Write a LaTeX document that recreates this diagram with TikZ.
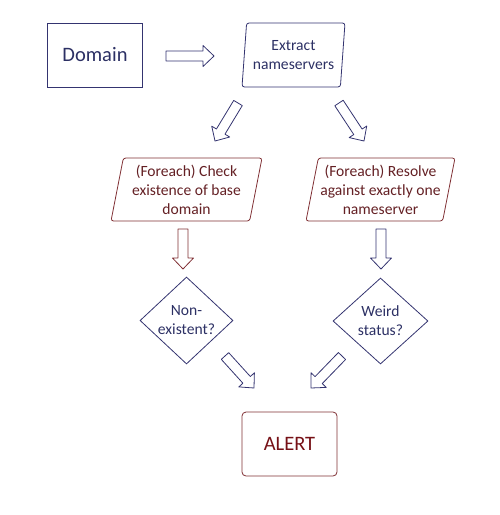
\documentclass[tikz,border=0pt]{standalone}
\usepackage{fontspec}
\setmainfont{Carlito}
\usepackage{tikz}
\usetikzlibrary{calc}
\usetikzlibrary{shapes}
\usetikzlibrary{positioning}

\definecolor{navy}{RGB}{52,52,112}
\definecolor{navytext}{RGB}{44,48,100}
\definecolor{wine}{RGB}{128,48,52}
\definecolor{winetext}{RGB}{100,32,36}
\definecolor{alerttext}{RGB}{118,16,22}

% hollow block arrow: colour, from, to
\newcommand{\fatarrow}[3]{%
  \draw[#1,line width=0.8pt,line join=round] let \p1=($(#3)-(#2)$), \n1={atan2(\y1,\x1)}, \n2={veclen(\x1,\y1)} in
    [shift={(#2)},rotate=\n1] (0pt,-5pt) -- (\n2-11pt,-5pt) -- (\n2-11pt,-10.5pt) -- (\n2,0pt)
    -- (\n2-11pt,10.5pt) -- (\n2-11pt,5pt) -- (0pt,5pt) -- cycle;
}

\begin{document}
\begin{tikzpicture}[x=1pt,y=-1pt,
    every node/.style={align=center,font=\fontsize{15.6}{19}\selectfont,line width=0.8pt},
    box/.style={draw=navy,text=navytext,rectangle,minimum width=95pt,minimum height=64pt},
    slanted/.style={trapezium,trapezium stretches body,rounded corners=2.5pt,minimum height=63pt,inner sep=0pt},
    question/.style={diamond,draw=navy,inner sep=0pt}]
  \useasboundingbox (0,0) rectangle (500,515);

  \draw node[box,font=\fontsize{20.5}{24}\selectfont] (dom) at (95,55) {Domain};
  \draw node[slanted,draw=navy,text=navytext,minimum width=103pt,minimum height=64pt,
    trapezium left angle=81,trapezium right angle=99] (ext) at (293.5,55) {Extract\\nameservers};

  \draw node[slanted,draw=wine,text=winetext,minimum width=151pt,
    trapezium left angle=76,trapezium right angle=104] (check) at (186.5,189.5)
    {(Foreach) Check\\existence of base\\domain};
  \draw node[slanted,draw=wine,text=winetext,minimum width=149pt,
    trapezium left angle=76,trapezium right angle=104] (resolve) at (380.5,189.5)
    {(Foreach) Resolve\\against exactly one\\nameserver};

  \draw node[question,minimum width=93pt,minimum height=87pt,
    label={[text=navytext,align=center]center:Non-\\existent?}] (nonex) at (186.5,320.5) {};
  \draw node[question,minimum width=95pt,minimum height=86pt,
    label={[text=navytext,align=center]center:Weird\\status?}] (weird) at (380.5,321) {};

  \draw node[box,draw=wine,text=alerttext,rounded corners=4pt,font=\fontsize{20.5}{24}\selectfont]
    (alert) at (289.5,444) {ALERT};

  % block arrows between the steps
  \coordinate (a1s) at (166,56);   \coordinate (a1e) at (214,56);
  \coordinate (a2s) at (238,103);  \coordinate (a2e) at (215,141);
  \coordinate (a3s) at (339,103);  \coordinate (a3e) at (364,141);
  \coordinate (a4s) at (183,229);  \coordinate (a4e) at (183,269);
  \coordinate (a5s) at (381,229);  \coordinate (a5e) at (381,269);
  \coordinate (a6s) at (225,356);  \coordinate (a6e) at (254,388);
  \coordinate (a7s) at (342,356);  \coordinate (a7e) at (311,388);
  \fatarrow{navy}{a1s}{a1e}
  \fatarrow{navy}{a2s}{a2e}
  \fatarrow{navy}{a3s}{a3e}
  \fatarrow{wine}{a4s}{a4e}
  \fatarrow{navy}{a5s}{a5e}
  \fatarrow{navy}{a6s}{a6e}
  \fatarrow{navy}{a7s}{a7e}

\end{tikzpicture}
\end{document}
